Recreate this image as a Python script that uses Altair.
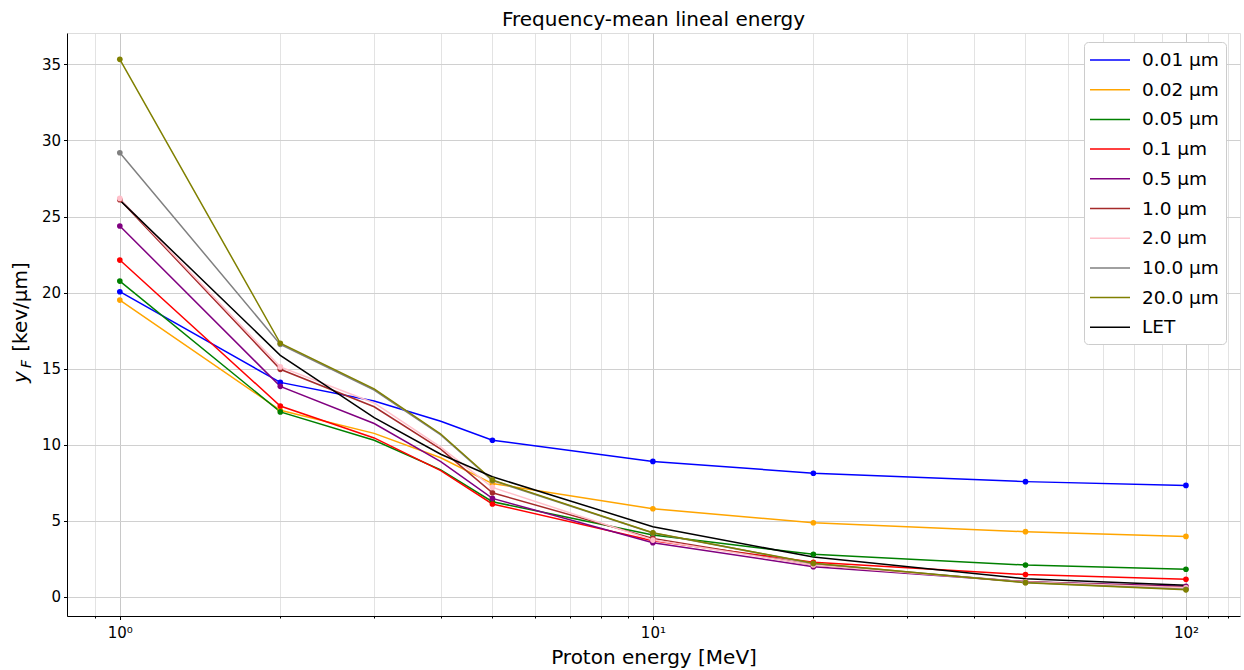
import altair as alt
import pandas as pd

# ---- data ----
energies = [1, 2, 3, 4, 5, 10, 20, 50, 100]
marker_energies = [1, 2, 5, 10, 20, 50, 100]

series_names = ["0.01 μm", "0.02 μm", "0.05 μm", "0.1 μm", "0.5 μm",
                "1.0 μm", "2.0 μm", "10.0 μm", "20.0 μm", "LET"]
series_colors = ["blue", "orange", "green", "red", "purple",
                 "brown", "pink", "gray", "olive", "black"]

y_001 = [20.06, 14.10, 12.88, 11.55, 10.30, 8.91, 8.13, 7.58, 7.33]
y_002 = [19.51, 12.27, 10.75, 9.15, 7.45, 5.80, 4.88, 4.29, 3.98]
y_005 = [20.76, 12.16, 10.30, 8.35, 6.26, 4.07, 2.80, 2.10, 1.82]
y_01 = [22.14, 12.55, 10.45, 8.30, 6.11, 3.70, 2.28, 1.47, 1.16]
y_05 = [24.38, 13.84, 11.40, 8.90, 6.48, 3.57, 1.99, 1.00, 0.70]
y_1 = [26.10, 14.96, 12.50, 9.72, 6.85, 3.85, 2.10, 1.00, 0.62]
y_2 = [26.19, 15.12, 12.75, 9.85, 7.20, 3.74, 2.10, 0.98, 0.60]
y_10 = [29.19, 16.60, 13.60, 10.65, 7.65, 4.20, 2.20, 0.95, 0.50]
y_20 = [35.33, 16.67, 13.68, 10.71, 7.69, 4.22, 2.21, 0.94, 0.47]
y_let = [26.08, 15.88, 11.78, 9.38, 7.90, 4.62, 2.62, 1.20, 0.77]

all_series = [y_001, y_002, y_005, y_01, y_05, y_1, y_2, y_10, y_20, y_let]
has_markers = [True] * 9 + [False]

x_ticks = [0.9, 1, 2, 3, 4, 5, 6, 7, 8, 9, 10, 20, 30, 40, 50, 60, 70, 80, 90,
           100, 110, 120]
y_ticks = [0, 5, 10, 15, 20, 25, 30, 35]

rows = []
for i, (name, vals) in enumerate(zip(series_names, all_series)):
    for e, v in zip(energies, vals):
        rows.append({"E": e, "y": v, "series": name, "order": i,
                     "marker": has_markers[i] and (e in marker_energies)})
df = pd.DataFrame(rows)

FONT = "DejaVu Sans"
W, H = 1173, 583

xscale = alt.Scale(type="log", domain=[0.796, 126.3], nice=False, zero=False)
yscale = alt.Scale(domain=[-1.25, 37.06], nice=False, zero=False)
cscale = alt.Scale(domain=series_names, range=series_colors)

label_expr = ("datum.value == 1 ? '10⁰' : datum.value == 10 ? '10¹' : "
              "datum.value == 100 ? '10²' : ''")
is_major = "datum.value == 1 || datum.value == 10 || datum.value == 100"

xaxis = alt.Axis(values=x_ticks, labelExpr=label_expr, labelOverlap=False,
                 labelFlush=False, title="Proton energy [MeV]",
                 titleFontSize=20, titleFont=FONT, titleFontWeight="normal",
                 titlePadding=7, labelFontSize=15, labelFont=FONT,
                 labelPadding=6, labelColor="black",
                 tickSize={"condition": {"test": is_major, "value": 3.5}, "value": 2},
                 tickColor="black",
                 grid=True,
                 gridColor={"condition": {"test": is_major, "value": "#c8c8c8"}, "value": "#dcdcdc"},
                 gridWidth={"condition": {"test": is_major, "value": 1}, "value": 0.8},
                 domainColor="black")
yaxis = alt.Axis(values=y_ticks, title=None, labelFontSize=15, labelFont=FONT,
                 labelColor="black", labelPadding=3, tickSize=3.5,
                 tickColor="black", grid=True, gridColor="#d0d0d0",
                 gridWidth=1, domainColor="black")

legend = alt.Legend(title=None, orient="none", legendX=1017, legendY=9,
                    symbolType="M-2,0H2", symbolSize=400, symbolStrokeWidth=1.5,
                    symbolOffset=8,
                    labelFontSize=18.5, labelFont=FONT, labelColor="black",
                    rowPadding=8.7, padding=7, fillColor="white",
                    strokeColor="#cccccc", cornerRadius=4, labelOffset=21)

base = alt.Chart(df)

lines = base.mark_line(strokeWidth=1.5).encode(
    x=alt.X("E:Q", scale=xscale, axis=xaxis),
    y=alt.Y("y:Q", scale=yscale, axis=yaxis),
    color=alt.Color("series:N", scale=cscale, legend=legend,
                    sort=series_names),
    detail="series:N",
    order=alt.Order("E:Q"),
)

points = base.transform_filter("datum.marker").mark_circle(size=32, opacity=1).encode(
    x=alt.X("E:Q", scale=xscale),
    y=alt.Y("y:Q", scale=yscale),
    color=alt.Color("series:N", scale=cscale, legend=None),
)

# y-axis title with subscript, as text marks
lab_df = pd.DataFrame({"t": [0]})
ylab1 = alt.Chart(lab_df).mark_text(text="y", fontSize=20, font=FONT,
                                    fontStyle="italic", angle=270,
                                    align="center", baseline="middle",
                                    color="black").encode(
    x=alt.value(-46), y=alt.value(344))
ylab2 = alt.Chart(lab_df).mark_text(text="F", fontSize=14, font=FONT,
                                    fontStyle="italic", angle=270,
                                    align="center", baseline="middle",
                                    color="black").encode(
    x=alt.value(-40), y=alt.value(331))
ylab3 = alt.Chart(lab_df).mark_text(text="[kev/μm]", fontSize=20, font=FONT,
                                    angle=270, align="center",
                                    baseline="middle", color="black").encode(
    x=alt.value(-46), y=alt.value(274))

chart = alt.layer(lines, points, ylab1, ylab2, ylab3).properties(
    width=W, height=H,
    title=alt.TitleParams("Frequency-mean lineal energy", fontSize=20,
                          font=FONT, fontWeight="normal", color="black",
                          offset=3),
    autosize=alt.AutoSizeParams(type="none"),
    padding={"left": 67, "top": 33, "right": 4, "bottom": 54},
).configure_view(stroke="black", strokeWidth=1).configure(background="white")

chart.save("out.html", embed_options={"renderer": "svg", "actions": False})
